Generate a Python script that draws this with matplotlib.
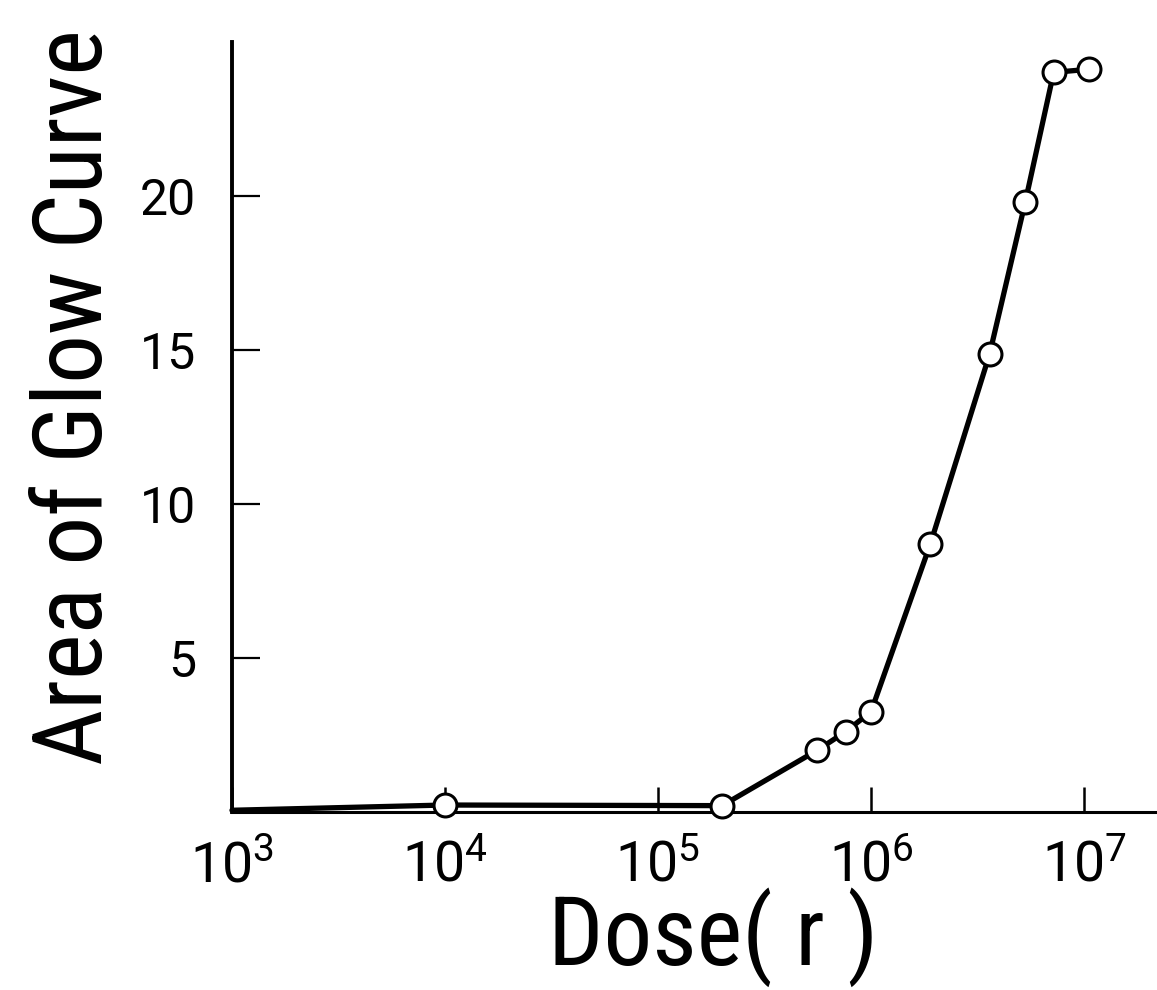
import numpy as np
import matplotlib
matplotlib.use("Agg")
import matplotlib.pyplot as plt
from matplotlib import font_manager

# dose in roentgen, area of the glow curve (arbitrary units)
dose = [1e3, 1e4, 2e5, 5.6e5, 7.6e5, 1.0e6, 1.9e6, 3.6e6, 5.3e6, 7.2e6, 1.05e7]
area = [0.05, 0.22, 0.2, 2.0, 2.6, 3.25, 8.7, 14.85, 19.8, 24.0, 24.1]

x_ticks = [1e3, 1e4, 1e5, 1e6, 1e7]
y_ticks = [5, 10, 15, 20]

names = {f.name for f in font_manager.fontManager.ttflist}
def pick(cands):
    return next((n for n in cands if n in names), 'DejaVu Sans')

label_face = pick(['Roboto Condensed', 'Liberation Sans Narrow', 'Roboto'])
tick_face = pick(['Roboto', 'Lato', 'Open Sans'])

plt.rcParams['font.family'] = [tick_face, 'DejaVu Sans']
plt.rcParams['mathtext.fontset'] = 'custom'
plt.rcParams['mathtext.rm'] = tick_face

fig = plt.figure(figsize=(11.57, 9.9), dpi=100)
ax = fig.add_axes([0.2005, 0.18, 0.7995, 0.778])

ax.plot(dose, area, color='black', lw=3.8, marker='o', ms=16.5,
        mfc='white', mec='black', mew=2.2, markevery=list(range(1, len(dose))),
        solid_capstyle='round', clip_on=False, zorder=3)

ax.set_xscale('log')
ax.set_xlim(1e3, 2.2e7)
ax.set_ylim(0, 25)
ax.set_xticks(x_ticks)
ax.set_xticklabels([r'$\mathregular{10^{%d}}$' % int(np.log10(t)) for t in x_ticks])
ax.minorticks_off()
ax.set_yticks(y_ticks)

for s in ['top', 'right']:
    ax.spines[s].set_visible(False)
ax.spines['left'].set_linewidth(2.8)
ax.spines['bottom'].set_linewidth(2.2)

ax.tick_params(axis='x', direction='in', length=18, width=1.8, labelsize=40, pad=20)
ax.tick_params(axis='y', direction='in', length=20, width=1.6, labelsize=36, pad=26)

lab_font = dict(fontsize=70, family=[label_face, 'DejaVu Sans'])
ax.set_xlabel('Dose( r )', **lab_font)
ax.xaxis.set_label_coords(0.52, -0.098)
ax.set_ylabel('Area of Glow Curve', **lab_font)
ax.yaxis.set_label_coords(-0.119, 0.539)

fig.savefig('out.png', dpi=100)
